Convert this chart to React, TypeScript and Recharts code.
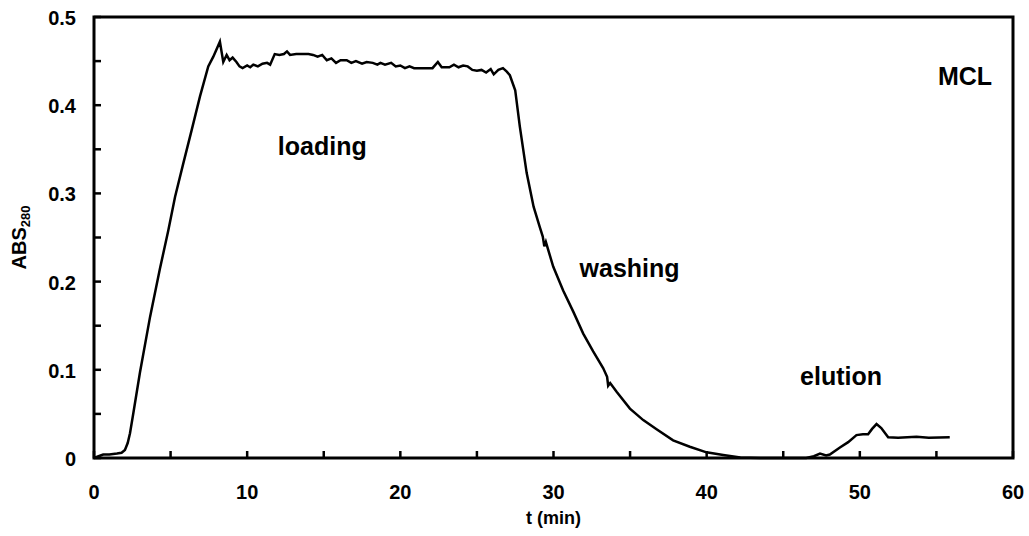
import { Line, LineChart, ReferenceArea, ReferenceDot, XAxis, YAxis } from "recharts";

// elution profile: time (min) and ABS280
const times = [
  0, 0.3, 0.6, 1.0, 1.5, 1.8, 2.02, 2.2, 2.35, 2.57, 3.0, 3.66, 4.31, 4.85, 5.29, 5.83, 6.38, 6.92, 7.46,
  7.79, 8.22, 8.44, 8.66, 8.85, 9.05, 9.3, 9.5, 9.7, 10.0, 10.2, 10.4, 10.7, 11.0, 11.3, 11.5, 11.8,
  12.1, 12.4, 12.6, 12.8, 13.2, 13.6, 14.0, 14.3, 14.6, 14.9, 15.2, 15.5, 15.8, 16.1, 16.5, 16.8, 17.1,
  17.5, 17.8, 18.2, 18.5, 18.7, 19.0, 19.4, 19.7, 20.0, 20.3, 20.6, 20.9, 21.5, 22.1, 22.45, 22.7, 23.2,
  23.5, 23.8, 24.1, 24.4, 24.7, 25.0, 25.3, 25.6, 25.9, 26.1, 26.4, 26.7, 26.95, 27.15, 27.5, 27.8, 28.25,
  28.7, 29.1, 29.3, 29.4, 29.5, 29.98, 30.63, 31.29, 31.94, 32.59, 33.24, 33.5, 33.57, 33.7, 34.12, 34.99,
  35.86, 36.73, 37.81, 38.9, 39.99, 41.08, 42.2, 43.5, 46.5, 47.0, 47.4, 47.8, 48.04, 48.7, 49.24, 49.78,
  50.2, 50.54, 50.8, 51.09, 51.4, 51.85, 52.5, 53.7, 54.5, 55.87,
];
const absorbance = [
  0, 0.002, 0.004, 0.004, 0.005, 0.006, 0.009, 0.017, 0.028, 0.051, 0.097, 0.16, 0.215, 0.258, 0.296,
  0.334, 0.372, 0.41, 0.444, 0.455, 0.472, 0.449, 0.457, 0.451, 0.454, 0.449, 0.444, 0.442, 0.445,
  0.443, 0.446, 0.444, 0.447, 0.448, 0.446, 0.458, 0.457, 0.458, 0.461, 0.457, 0.458, 0.458, 0.458, 0.457,
  0.455, 0.457, 0.451, 0.453, 0.448, 0.451, 0.451, 0.448, 0.45, 0.447, 0.449, 0.448, 0.446, 0.448, 0.446,
  0.448, 0.444, 0.445, 0.442, 0.444, 0.442, 0.442, 0.442, 0.449, 0.443, 0.443, 0.446, 0.443, 0.445, 0.444,
  0.44, 0.439, 0.44, 0.437, 0.441, 0.435, 0.44, 0.442, 0.438, 0.434, 0.417, 0.376, 0.323, 0.285, 0.262,
  0.251, 0.24, 0.245, 0.217, 0.19, 0.166, 0.141, 0.121, 0.102, 0.092, 0.082, 0.085, 0.075, 0.056, 0.043,
  0.0325, 0.02, 0.0128, 0.0064, 0.0034, 0.0005, 0, 0, 0.002, 0.005, 0.003, 0.004, 0.012, 0.018, 0.026,
  0.027, 0.027, 0.033, 0.0385, 0.034, 0.0235, 0.023, 0.024, 0.023, 0.0235,
];

const xTicks = [0, 5, 10, 15, 20, 25, 30, 35, 40, 45, 50, 55, 60];
const yTicks = [0, 0.05, 0.1, 0.15, 0.2, 0.25, 0.3, 0.35, 0.4, 0.45, 0.5];

const annotations = [
  { text: "loading", t: 12.0, v: 0.3435 },
  { text: "washing", t: 31.7, v: 0.2047 },
  { text: "elution", t: 46.1, v: 0.0828 },
  { text: "MCL", t: 55.1, v: 0.423 },
];

const data = times.map((t, i) => ({ t, abs: absorbance[i] }));

const FONT = "'Liberation Sans', Arial, sans-serif";

function XTick({ x = 0, y = 0, payload }: any) {
  const v = payload?.value as number;
  return (
    <g>
      <line x1={x} y1={y} x2={x} y2={y - 7} stroke="#000" strokeWidth={2.5} />
      {v % 10 === 0 ? (
        <text x={x} y={y + 41} textAnchor="middle" fontFamily={FONT} fontWeight="bold" fontSize={20} fill="#000">
          {v}
        </text>
      ) : null}
    </g>
  );
}

function YTick({ x = 0, y = 0, payload, index }: any) {
  const v = payload?.value as number;
  return (
    <g>
      <line x1={x} y1={y} x2={x + 7} y2={y} stroke="#000" strokeWidth={2.5} />
      {index % 2 === 0 ? (
        <text x={x - 18} y={y + 8} textAnchor="end" fontFamily={FONT} fontWeight="bold" fontSize={20} fill="#000">
          {v === 0 ? "0" : v.toFixed(1)}
        </text>
      ) : null}
    </g>
  );
}

function XTitle({ viewBox }: any) {
  const { x, y, width } = viewBox;
  return (
    <text x={x + width / 2} y={y + 66} textAnchor="middle" fontFamily={FONT} fontWeight="bold" fontSize={18} fill="#000">
      t (min)
    </text>
  );
}

function YTitle({ viewBox }: any) {
  const { y, height } = viewBox;
  const cx = 26;
  const cy = y + height / 2;
  return (
    <text
      x={cx}
      y={cy}
      transform={`rotate(-90, ${cx}, ${cy})`}
      textAnchor="middle"
      fontFamily={FONT}
      fontWeight="bold"
      fontSize={20}
      fill="#000"
    >
      ABS
      <tspan fontSize={13} dy={4}>
        280
      </tspan>
    </text>
  );
}

function Annotation({ viewBox, text }: any) {
  const { x, y, width = 0, height = 0 } = viewBox ?? {};
  return (
    <text x={x + width / 2} y={y + height / 2} textAnchor="start" fontFamily={FONT} fontWeight="bold" fontSize={25} fill="#000">
      {text}
    </text>
  );
}

export default function App() {
  return (
    <div style={{ position: "absolute", left: 0, top: 0 }}>
      <LineChart width={1029} height={536} data={data} margin={{ top: 17, right: 16, left: 0, bottom: 0 }}>
        <XAxis
          dataKey="t"
          type="number"
          domain={[0, 60]}
          ticks={xTicks}
          interval={0}
          height={78}
          tickSize={0}
          tickMargin={0}
          tickLine={false}
          axisLine={false}
          tick={<XTick />}
          label={<XTitle />}
        />
        <YAxis
          type="number"
          domain={[0, 0.5]}
          ticks={yTicks}
          interval={0}
          width={94}
          tickSize={0}
          tickMargin={0}
          tickLine={false}
          axisLine={false}
          tick={<YTick />}
          label={<YTitle />}
        />
        <ReferenceArea x1={0} x2={60} y1={0} y2={0.5} fill="none" stroke="#000" strokeWidth={3} ifOverflow="visible" />
        <Line type="linear" dataKey="abs" stroke="#000" strokeWidth={2.5} dot={false} isAnimationActive={false} />
        {annotations.map((a) => (
          <ReferenceDot
            key={a.text}
            x={a.t}
            y={a.v}
            r={0}
            fill="none"
            stroke="none"
            ifOverflow="visible"
            label={<Annotation text={a.text} />}
          />
        ))}
      </LineChart>
    </div>
  );
}
